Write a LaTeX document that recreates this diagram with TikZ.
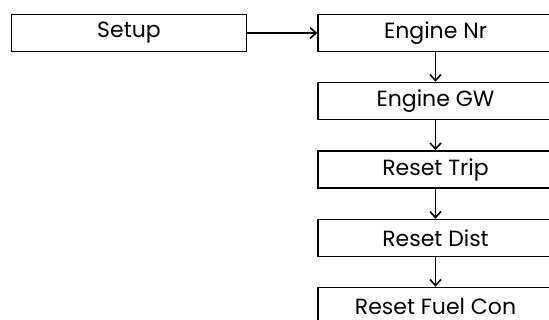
\documentclass[tikz,border=0pt]{standalone}
\usepackage{fontspec}
\setmainfont{Poppins}
\usetikzlibrary{arrows.meta}
\begin{document}
\begin{tikzpicture}[x=1pt, y=1pt, every node/.style={font=\fontsize{22}{24}\selectfont}]
  \tikzstyle{box}=[draw, line width=1.6pt, minimum width=235pt, minimum height=37pt, inner sep=0pt]
  \tikzstyle{link}=[-{Straight Barb[length=6pt,width=11pt]}, line width=1.6pt]
  \useasboundingbox (0,0) rectangle (549,-320);
  \clip (0,0) rectangle (549,-320);
  \node[box] (setup) at (129,-33) {Setup};
  \node[box] (nr) at (435.5,-33) {Engine Nr};
  \node[box] (gw) at (435.5,-101) {Engine GW};
  \node[box] (trip) at (435.5,-169.5) {Reset Trip};
  \node[box] (dist) at (435.5,-238) {Reset Dist};
  \node[box] (fuel) at (435.5,-306) {Reset Fuel Con};
  \draw[link] (setup) -- (nr);
  \draw[link] (nr) -- (gw); \draw[link] (gw) -- (trip);
  \draw[link] (trip) -- (dist); \draw[link] (dist) -- (fuel);
\end{tikzpicture}
\end{document}
